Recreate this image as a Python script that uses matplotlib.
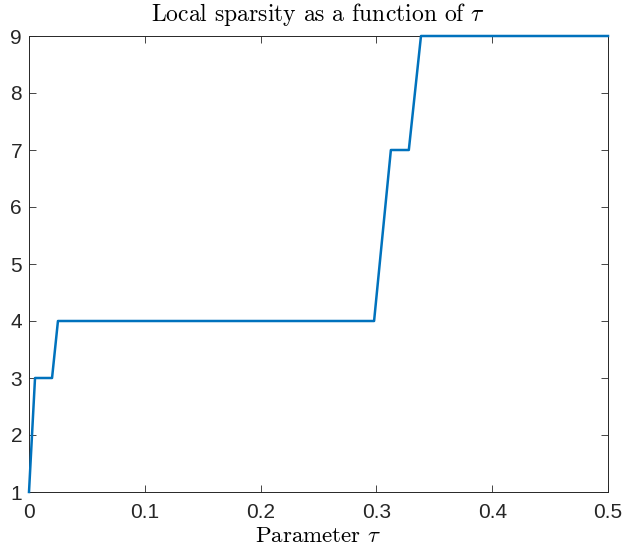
import matplotlib
matplotlib.use("Agg")
import matplotlib.pyplot as plt

tau = [0.0, 0.0052, 0.0199, 0.0250, 0.2980, 0.3125, 0.3280, 0.3385, 0.5]
sparsity = [1, 3, 3, 4, 4, 7, 7, 9, 9]
xticks = [0, 0.1, 0.2, 0.3, 0.4, 0.5]
xticklabels = ["0", "0.1", "0.2", "0.3", "0.4", "0.5"]
yticks = [1, 2, 3, 4, 5, 6, 7, 8, 9]

plt.rcParams['mathtext.fontset'] = 'cm'

fig = plt.figure(figsize=(6.23, 5.48), dpi=100)
ax = fig.add_axes([29/623, 1-492/548, (608-29)/623, (492-36)/548])
ax.plot(tau, sparsity, color='#0072BD', lw=1.8, clip_on=False, zorder=5)
ax.set_xlim(0, 0.5)
ax.set_ylim(1, 9)
ax.set_xticks(xticks)
ax.set_xticklabels(xticklabels)
ax.set_yticks(yticks)
ax.tick_params(direction='in', top=True, right=True, length=5, width=0.6,
               colors='#262626', labelsize=15)
ax.tick_params(axis='x', pad=8)
ax.tick_params(axis='y', pad=5)
for lab in ax.get_xticklabels() + ax.get_yticklabels():
    lab.set_fontfamily('Liberation Sans')
for s in ax.spines.values():
    s.set_color('#262626')
    s.set_linewidth(0.7)
ax.set_title(r'Local sparsity as a function of $\tau$', fontfamily='cmr10',
             fontsize=17, pad=11, color='black')
ax.set_xlabel(r'Parameter $\tau$', fontfamily='cmr10', fontsize=16.5, labelpad=3.5,
              color='black')
fig.savefig('out.png', dpi=100)
